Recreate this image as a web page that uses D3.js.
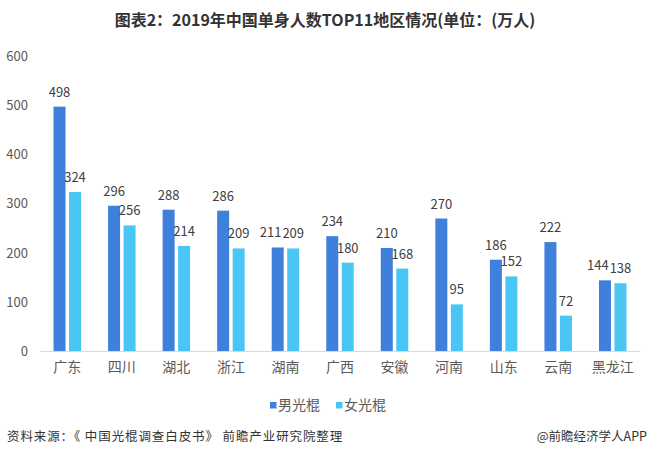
<!DOCTYPE html>
<html lang="zh">
<head>
  <meta charset="utf-8">
  <title>2019年中国单身人数TOP11地区情况</title>
  <script src="https://d3js.org/d3.v7.min.js"></script>
  <style>
    body { margin: 0; background: #fff; }
    svg text { font-family: "Noto Sans CJK SC", "Noto Sans", sans-serif; }
  </style>
</head>
<body>
<svg id="chart" width="649" height="458"></svg>
<script>
  var regions = ["广东", "四川", "湖北", "浙江", "湖南", "广西", "安徽", "河南", "山东", "云南", "黑龙江"];
  var male = [498, 296, 288, 286, 211, 234, 210, 270, 186, 222, 144];
  var female = [324, 256, 214, 209, 209, 180, 168, 95, 152, 72, 138];
  var seriesNames = ["男光棍", "女光棍"];
  var seriesColors = ["#3f80dc", "#4ac6f5"];
  var yTicks = [0, 100, 200, 300, 400, 500, 600];

  var svg = d3.select("#chart");

  var x = d3.scaleBand().domain(regions).range([40, 640]);
  var y = d3.scaleLinear().domain([0, 600]).range([351, 56.6]);

  var barW = 12, gap = 3.5;
  var groupW = barW * 2 + gap;
  function barX(d, s) { return x(d) + (x.bandwidth() - groupW) / 2 + s * (barW + gap); }

  /* title */
  svg.append("text")
      .attr("x", 325).attr("y", 26)
      .attr("text-anchor", "middle")
      .style("font-size", "16px").style("font-weight", "bold")
      .attr("fill", "#333")
      .text("图表2：2019年中国单身人数TOP11地区情况(单位：(万人)");

  /* y axis, labels only */
  var yAxis = svg.append("g")
      .attr("transform", "translate(28,0)")
      .call(d3.axisLeft(y).tickValues(yTicks).tickSize(0).tickPadding(0));
  yAxis.select(".domain").remove();
  yAxis.selectAll("text")
      .style("font-size", "13px")
      .attr("fill", "#595959");

  /* x axis */
  var xAxis = svg.append("g")
      .attr("transform", "translate(0," + y(0) + ")")
      .call(d3.axisBottom(x).tickSize(0).tickPadding(11));
  xAxis.select(".domain").attr("stroke", "#d9d9d9");
  xAxis.selectAll("text")
      .style("font-size", "14px")
      .attr("fill", "#595959");

  var series = [male, female];
  var labels = [];
  series.forEach(function(vals, s) {
    var g = svg.append("g");
    g.selectAll("rect")
      .data(regions)
      .enter().append("rect")
        .attr("x", function(d) { return barX(d, s); })
        .attr("y", function(d, i) { return y(vals[i]); })
        .attr("width", barW)
        .attr("height", function(d, i) { return y(0) - y(vals[i]); })
        .attr("fill", seriesColors[s]);
    labels[s] = g.selectAll("text")
      .data(regions)
      .enter().append("text")
        .attr("x", function(d) { return barX(d, s) + barW / 2; })
        .attr("y", function(d, i) { return y(vals[i]) - 10; })
        .attr("text-anchor", "middle")
        .style("font-size", "13px")
        .attr("fill", "#404040")
        .text(function(d, i) { return vals[i]; });
  });

  /* nudge the male label left when it would collide with the female one */
  regions.forEach(function(d, i) {
    var a = labels[0].nodes()[i], b = labels[1].nodes()[i];
    if (Math.abs(y(male[i]) - y(female[i])) > 13) return;
    var half = (a.getComputedTextLength() + b.getComputedTextLength()) / 2 + 1;
    var ax = +a.getAttribute("x"), bx = +b.getAttribute("x");
    if (bx - ax < half) a.setAttribute("x", bx - half);
  });

  /* legend */
  var legendX = [270, 336];
  seriesNames.forEach(function(name, s) {
    svg.append("rect")
        .attr("x", legendX[s]).attr("y", 402)
        .attr("width", 6.5).attr("height", 6.5)
        .attr("fill", seriesColors[s]);
    svg.append("text")
        .attr("x", legendX[s] + 8).attr("y", 410)
        .style("font-size", "14px")
        .attr("fill", "#595959")
        .text(name);
  });

  /* footer */
  svg.append("text")
      .attr("x", 7).attr("y", 441)
      .style("font-size", "12.5px").style("letter-spacing", "0.9px")
      .attr("fill", "#333")
      .text("资料来源：《 中国光棍调查白皮书》 前瞻产业研究院整理");
  svg.append("text")
      .attr("x", 647).attr("y", 441)
      .attr("text-anchor", "end")
      .style("font-size", "12.5px")
      .attr("fill", "#333")
      .text("@前瞻经济学人APP");
</script>
</body>
</html>
